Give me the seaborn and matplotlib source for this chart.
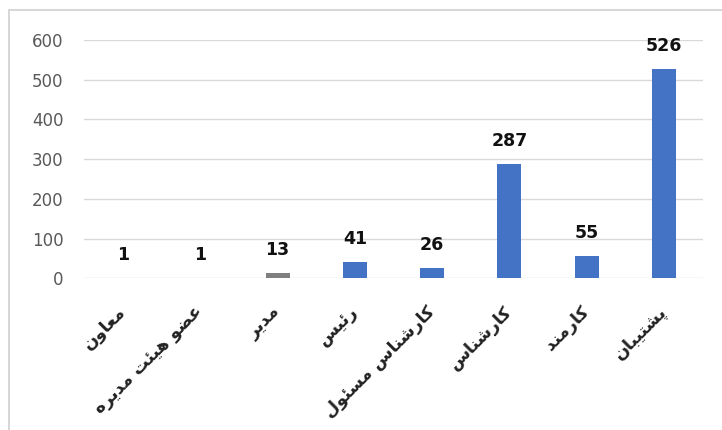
import matplotlib
matplotlib.use("Agg")
import matplotlib.pyplot as plt
import seaborn as sns
import pandas as pd
from matplotlib.patches import Rectangle

# ---- data ----
categories = ["معاون", "عضو هیئت مدیره", "مدیر", "رئیس",
              "کارشناس مسئول", "کارشناس", "کارمند", "پشتیبان"]
values = [1, 1, 13, 41, 26, 287, 55, 526]
bar_colors = ["#4472C4", "#4472C4", "#7F7F7F", "#4472C4",
              "#4472C4", "#4472C4", "#4472C4", "#4472C4"]
y_ticks = [0, 100, 200, 300, 400, 500, 600]

# ---- minimal Persian shaping (matplotlib has no complex text layout) ----
FORMS = {
    "\u0627": ("\uFE8D", "\uFE8E", None, None),
    "\u0628": ("\uFE8F", "\uFE90", "\uFE91", "\uFE92"),
    "\u062A": ("\uFE95", "\uFE96", "\uFE97", "\uFE98"),
    "\u062F": ("\uFEA9", "\uFEAA", None, None),
    "\u0631": ("\uFEAD", "\uFEAE", None, None),
    "\u0633": ("\uFEB1", "\uFEB2", "\uFEB3", "\uFEB4"),
    "\u0634": ("\uFEB5", "\uFEB6", "\uFEB7", "\uFEB8"),
    "\u0636": ("\uFEBD", "\uFEBE", "\uFEBF", "\uFEC0"),
    "\u0639": ("\uFEC9", "\uFECA", "\uFECB", "\uFECC"),
    "\u0644": ("\uFEDD", "\uFEDE", "\uFEDF", "\uFEE0"),
    "\u0645": ("\uFEE1", "\uFEE2", "\uFEE3", "\uFEE4"),
    "\u0646": ("\uFEE5", "\uFEE6", "\uFEE7", "\uFEE8"),
    "\u0647": ("\uFEE9", "\uFEEA", "\uFEEB", "\uFEEC"),
    "\u0648": ("\uFEED", "\uFEEE", None, None),
    "\u0626": ("\uFE89", "\uFE8A", "\uFE8B", "\uFE8C"),
    "\u067E": ("\uFB56", "\uFB57", "\uFB58", "\uFB59"),
    "\u06A9": ("\uFB8E", "\uFB8F", "\uFB90", "\uFB91"),
    "\u06CC": ("\uFBFC", "\uFBFD", "\uFBFE", "\uFBFF"),
}


def dual(c):
    return c in FORMS and FORMS[c][2] is not None


def shape(text):
    out = []
    n = len(text)
    for i, c in enumerate(text):
        if c not in FORMS:
            out.append(c)
            continue
        prev = text[i - 1] if i > 0 else ""
        nxt = text[i + 1] if i < n - 1 else ""
        jp = dual(prev)
        jn = dual(c) and (nxt in FORMS)
        iso, fin, ini, med = FORMS[c]
        if jp and jn:
            out.append(med)
        elif jp:
            out.append(fin)
        elif jn:
            out.append(ini)
        else:
            out.append(iso)
    return "".join(out)[::-1]


df = pd.DataFrame({"cat": categories, "val": values})

fig = plt.figure(figsize=(7.22, 4.30), dpi=100)
ax = fig.add_axes([0.117, 0.353, 0.856, 0.554])

sns.barplot(data=df, x="cat", y="val", hue="cat", palette=bar_colors,
            width=0.31, legend=False, ax=ax, saturation=1)

ax.set_ylim(0, 600)
ax.set_yticks(y_ticks)
ax.set_xlim(-0.5, len(categories) - 0.5)
ax.yaxis.grid(True, color="#D9D9D9", linewidth=1)
ax.set_axisbelow(True)
for s in ax.spines.values():
    s.set_visible(False)
ax.tick_params(axis="both", length=0)
ax.tick_params(axis="y", labelsize=12, labelcolor="#595959", pad=15)
ax.set_xlabel("")
ax.set_ylabel("")

ax.set_xticks(range(len(categories)))
ax.set_xticklabels([shape(c) for c in categories], rotation=45,
                   ha="right", va="center", rotation_mode="anchor",
                   fontsize=12.5, fontweight="bold", color="#222222",
                   family=["DejaVu Sans"])
ax.tick_params(axis="x", pad=22)

for cont in ax.containers:
    ax.bar_label(cont, padding=10, fontsize=12.5, fontweight="bold", color="#111111")

fig.patches.append(Rectangle((9 / 722, -0.1), 1.2, (430 - 10) / 430 + 0.1,
                             transform=fig.transFigure, fill=False,
                             edgecolor="#D0D0D0", linewidth=1.2))

fig.savefig("out.png", dpi=100, facecolor="white")
